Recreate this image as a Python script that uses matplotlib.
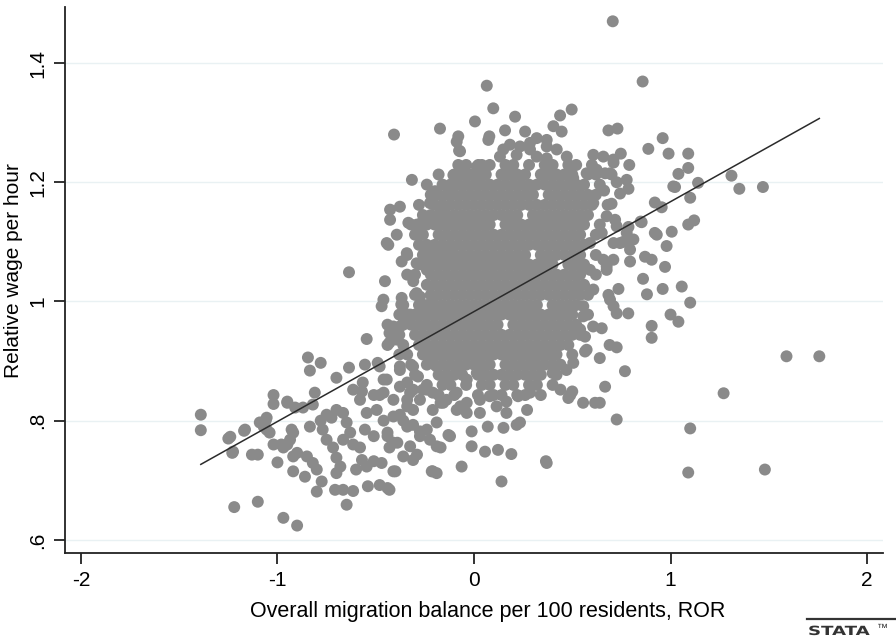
import numpy as np
import matplotlib
matplotlib.use("Agg")
import matplotlib.pyplot as plt
from matplotlib.lines import Line2D
from matplotlib.textpath import TextPath
from matplotlib.patches import PathPatch
from matplotlib.font_manager import FontProperties
from matplotlib.transforms import Affine2D

plt.rcParams['font.family'] = ['Liberation Sans', 'DejaVu Sans']

# regions, ROR: migration balance per 100 residents vs relative hourly wage
# sparse left tail
left_tail = [
    (-1.39, 0.81), (-1.39, 0.784), (-1.25, 0.77), (-1.23, 0.746), (-1.17, 0.783),
    (-1.13, 0.743), (-1.10, 0.743), (-1.06, 0.80), (-1.07, 0.79), (-1.02, 0.843),
    (-1.02, 0.828), (-1.04, 0.78), (-1.00, 0.73), (-1.22, 0.655), (-1.10, 0.664),
    (-0.97, 0.637), (-0.90, 0.624), (-0.95, 0.83), (-0.92, 0.78), (-0.98, 0.76),
    (-0.95, 0.76), (-0.92, 0.74), (-0.92, 0.715), (-0.845, 0.906), (-0.835, 0.884),
    (-0.95, 0.832), (-0.81, 0.847), (-0.82, 0.827), (-0.87, 0.822), (-0.91, 0.822),
    (-1.055, 0.805), (-1.09, 0.797), (-1.055, 0.785), (-1.165, 0.785), (-1.24, 0.773),
    (-1.226, 0.748), (-1.02, 0.76), (-0.97, 0.755), (-0.928, 0.785), (-0.936, 0.768),
    (-0.90, 0.746), (-0.86, 0.706), (-0.85, 0.74), (-0.82, 0.729), (-0.835, 0.79),
    (-0.80, 0.718), (-0.80, 0.681),
]

# lower left arm of the cloud
lower_arm = [
    (-0.78, 0.897), (-0.70, 0.872), (-0.636, 0.889), (-0.555, 0.894), (-0.49, 0.897),
    (-0.46, 0.869), (-0.615, 0.852), (-0.566, 0.864), (-0.546, 0.937), (-0.78, 0.80),
    (-0.75, 0.81), (-0.77, 0.785), (-0.75, 0.768), (-0.717, 0.755), (-0.70, 0.738),
    (-0.68, 0.723), (-0.70, 0.712), (-0.707, 0.684), (-0.666, 0.684), (-0.615, 0.682),
    (-0.648, 0.659), (-0.54, 0.69), (-0.48, 0.692), (-0.44, 0.687), (-0.775, 0.698),
    (-0.70, 0.818), (-0.725, 0.805), (-0.666, 0.813), (-0.648, 0.797), (-0.63, 0.78),
    (-0.666, 0.768), (-0.615, 0.76), (-0.58, 0.755), (-0.57, 0.734), (-0.60, 0.718),
    (-0.546, 0.723), (-0.51, 0.732), (-0.47, 0.729), (-0.41, 0.715), (-0.555, 0.785),
    (-0.51, 0.774), (-0.546, 0.813), (-0.58, 0.835), (-0.57, 0.849), (-0.51, 0.843),
    (-0.48, 0.843), (-0.444, 0.869), (-0.495, 0.818), (-0.46, 0.80), (-0.41, 0.807),
    (-0.36, 0.80), (-0.31, 0.793), (-0.44, 0.774), (-0.39, 0.763), (-0.43, 0.755),
    (-0.36, 0.74), (-0.31, 0.734), (-0.325, 0.757), (-0.275, 0.774), (-0.24, 0.785),
    (-0.19, 0.757), (-0.21, 0.715), (-0.063, 0.723), (-0.122, 0.774), (-0.012, 0.782),
    (-0.012, 0.757), (-0.325, 0.847), (-0.275, 0.835), (-0.24, 0.852), (-0.34, 0.864),
    (-0.285, 0.874), (-0.377, 0.891), (-0.31, 0.891), (-0.21, 0.818), (-0.157, 0.83),
    (-0.088, 0.818), (-0.037, 0.813), (-0.19, 0.797), (-0.31, 0.818), (-0.34, 0.824),
    (-0.41, 0.835), (-0.636, 1.049),
    (-0.40, 0.715), (-0.215, 0.715), (-0.19, 0.712), (-0.43, 0.684), (0.14, 0.698),
    (0.37, 0.729), (0.056, 0.748), (0.122, 0.751), (0.19, 0.744), (0.07, 0.79),
    (0.15, 0.788), (0.217, 0.793), (-0.13, 0.776), (-0.17, 0.755), (-0.29, 0.743),
    (-0.44, 0.78), (-0.41, 0.763), (-0.34, 0.79), (-0.275, 0.782), (-0.224, 0.768),
    (-0.377, 0.81), (0.165, 0.813), (0.234, 0.797), (0.27, 0.818), (0.285, 0.847),
    (0.224, 0.841), (0.165, 0.832), (0.115, 0.824), (0.08, 0.841), (0.03, 0.835),
    (0.03, 0.813), (-0.037, 0.83), (-0.07, 0.824), (-0.088, 0.847), (-0.14, 0.835),
    (-0.17, 0.83), (-0.21, 0.847), (-0.26, 0.852), (-0.14, 0.874), (-0.19, 0.891),
    (-0.215, 0.902), (-0.088, 0.885), (-0.037, 0.869), (0.014, 0.88), (-0.31, 0.852),
    (-0.34, 0.835), (-0.377, 0.885), (-0.377, 0.857), (-0.46, 0.847), (-0.48, 0.891),
    (-0.43, 0.947), (-0.377, 0.958), (-0.43, 0.931), (-0.325, 0.978), (-0.37, 0.995),
]

# right-hand side of the cloud and far outliers
right_side = [
    (0.44, 0.852), (0.50, 0.849), (0.48, 0.838), (0.555, 0.83), (0.616, 0.83),
    (0.64, 0.905), (0.667, 0.857), (0.606, 0.958), (0.573, 0.919),
    (0.92, 1.115), (1.006, 1.117), (0.98, 1.093), (0.972, 1.058), (0.87, 1.075),
    (0.904, 1.07), (0.86, 1.038), (0.88, 1.012), (0.96, 1.021), (1.057, 1.025),
    (1.10, 0.998), (1.00, 0.978), (1.04, 0.966), (0.904, 0.959), (0.904, 0.939),
    (0.785, 0.98), (0.735, 1.021), (0.684, 1.011), (0.71, 0.992), (0.726, 0.98),
    (0.794, 1.087), (0.794, 1.067), (0.76, 1.10), (0.675, 1.059), (0.65, 0.955),
    (0.69, 0.927), (0.726, 0.923), (0.565, 0.916), (0.768, 0.883), (0.49, 0.843),
    (0.726, 0.802), (1.10, 0.787), (0.366, 0.732), (1.09, 0.713),
    (0.505, 0.897), (0.47, 0.885), (0.40, 0.88), (0.565, 0.941), (0.54, 0.953),
    (0.556, 0.975), (0.52, 1.014), (0.607, 1.02), (0.556, 0.992), (0.59, 1.053),
    (0.658, 1.07), (0.59, 1.098), (0.71, 1.098), (0.743, 1.098), (0.65, 1.115),
    (0.706, 1.47), (0.858, 1.369), (0.684, 1.287), (0.73, 1.29), (0.96, 1.274),
    (0.887, 1.256), (0.99, 1.248), (1.09, 1.248), (1.09, 1.224), (1.04, 1.214),
    (1.023, 1.192), (1.14, 1.199), (1.31, 1.211), (1.35, 1.189), (1.47, 1.192),
    (1.10, 1.174), (0.92, 1.166), (0.955, 1.158), (0.853, 1.133), (0.93, 1.112),
    (1.09, 1.129), (1.12, 1.136), (0.79, 1.229), (0.747, 1.248), (0.71, 1.233),
    (0.658, 1.243), (0.667, 1.215), (0.726, 1.20), (0.777, 1.204), (0.743, 1.181),
    (0.786, 1.189), (0.662, 1.186), (0.70, 1.164), (0.675, 1.143), (0.718, 1.137),
    (0.786, 1.125), (0.848, 1.134), (0.786, 1.099), (1.27, 0.846), (1.59, 0.908),
    (1.757, 0.908), (1.48, 0.718), (0.64, 0.83),
]

# upper part of the cloud
upper_side = [
    (0.065, 1.362), (0.098, 1.324), (0.209, 1.31), (0.497, 1.322), (0.438, 1.312),
    (0.005, 1.302), (-0.173, 1.29), (-0.407, 1.28), (-0.08, 1.277), (-0.076, 1.253),
    (0.078, 1.277), (0.158, 1.287), (0.26, 1.285), (0.404, 1.294), (0.446, 1.285),
    (-0.316, 1.204), (0.319, 1.274), (0.37, 1.271), (0.421, 1.255), (0.472, 1.243),
    (0.607, 1.246), (0.709, 1.238), (0.692, 1.215), (0.624, 1.221), (0.573, 1.215),
    (0.505, 1.207), (0.149, 1.255), (0.183, 1.263), (0.234, 1.26), (0.285, 1.266),
    (0.132, 1.243), (0.319, 1.243), (0.37, 1.24), (0.014, 1.226), (-0.088, 1.212),
    (-0.122, 1.193), (-0.097, 1.196), (-0.198, 1.185), (-0.224, 1.165), (-0.164, 1.159),
    (-0.377, 1.159), (-0.427, 1.154), (-0.427, 1.137), (-0.334, 1.132), (-0.29, 1.129),
    (-0.258, 1.137), (-0.215, 1.143), (-0.393, 1.112), (-0.444, 1.098), (-0.342, 1.081),
    (-0.368, 1.067), (-0.453, 1.034), (-0.368, 1.006), (-0.461, 1.003), (-0.309, 1.034),
    (-0.292, 1.014), (-0.24, 1.07), (-0.139, 1.081), (-0.275, 1.115), (1.014, 1.193),
    (0.607, 1.165), (0.726, 1.126), (0.777, 1.115), (0.811, 1.104), (0.709, 1.07),
    (0.675, 1.053), (0.692, 1.003),
    (-0.436, 1.095), (-0.47, 0.992), (-0.25, 1.087), (-0.19, 1.092), (-0.292, 1.064),
    (-0.24, 1.053), (-0.207, 1.008), (-0.275, 1.008), (-0.41, 0.958), (-0.36, 0.964),
    (-0.393, 0.936),
    (-0.071, 1.252), (-0.088, 1.268), (0.073, 1.271), (0.217, 1.246), (0.285, 1.255),
    (0.37, 1.26), (0.022, 1.229), (-0.105, 1.212),
]

# dense core, one list of x values per wage level
core_y = [1.229, 1.213, 1.196, 1.179, 1.162, 1.145, 1.129, 1.112, 1.095, 1.078,
          1.062, 1.045, 1.028, 1.011, 0.994, 0.978, 0.961, 0.944, 0.927, 0.911,
          0.894, 0.877, 0.860, 0.843]
core_x = [
    [-0.08, -0.04, 0.04, 0.08, 0.16, 0.20, 0.28, 0.36, 0.40, 0.48, 0.52, 0.60],
    [-0.18, -0.10, -0.06, -0.02, 0.02, 0.06, 0.14, 0.18, 0.22, 0.26, 0.34, 0.38, 0.42, 0.46, 0.50, 0.58, 0.62,
     0.70],
    [-0.24, -0.16, -0.12, -0.08, -0.04, 0.00, 0.04, 0.08, 0.12, 0.16, 0.20, 0.24, 0.28, 0.32, 0.36, 0.40, 0.44,
     0.48, 0.52, 0.56, 0.64],
    [-0.22, -0.18, -0.14, -0.10, -0.06, -0.02, 0.02, 0.06, 0.10, 0.14, 0.18, 0.22, 0.26, 0.30, 0.38, 0.42, 0.46,
     0.50, 0.54, 0.58, 0.62],
    [-0.28, -0.20, -0.16, -0.12, -0.08, -0.04, 0.00, 0.04, 0.08, 0.12, 0.16, 0.20, 0.24, 0.28, 0.32, 0.36, 0.40,
     0.44, 0.48, 0.52, 0.56, 0.60, 0.68],
    [-0.26, -0.22, -0.18, -0.14, -0.10, -0.06, -0.02, 0.02, 0.06, 0.10, 0.14, 0.18, 0.22, 0.30, 0.34, 0.38, 0.42,
     0.46, 0.50, 0.54, 0.58],
    [-0.32, -0.24, -0.20, -0.16, -0.12, -0.08, -0.04, 0.00, 0.04, 0.08, 0.16, 0.20, 0.24, 0.28, 0.32, 0.36, 0.40,
     0.44, 0.48, 0.52, 0.56, 0.64],
    [-0.30, -0.26, -0.18, -0.14, -0.10, -0.06, -0.02, 0.02, 0.06, 0.10, 0.14, 0.18, 0.22, 0.26, 0.30, 0.34, 0.38,
     0.42, 0.46, 0.50, 0.54, 0.62],
    [-0.28, -0.24, -0.20, -0.16, -0.12, -0.08, -0.04, 0.00, 0.04, 0.08, 0.12, 0.16, 0.20, 0.24, 0.28, 0.32, 0.36,
     0.40, 0.44, 0.48, 0.52, 0.56],
    [-0.34, -0.26, -0.22, -0.18, -0.14, -0.10, -0.06, -0.02, 0.02, 0.06, 0.10, 0.14, 0.18, 0.22, 0.26, 0.34, 0.38,
     0.42, 0.46, 0.50, 0.54, 0.62],
    [-0.28, -0.24, -0.20, -0.16, -0.12, -0.08, -0.04, 0.00, 0.04, 0.08, 0.12, 0.16, 0.20, 0.24, 0.28, 0.32, 0.36,
     0.40, 0.48, 0.52, 0.56],
    [-0.34, -0.30, -0.22, -0.18, -0.14, -0.10, -0.06, -0.02, 0.02, 0.06, 0.10, 0.14, 0.18, 0.22, 0.26, 0.30, 0.34,
     0.38, 0.42, 0.46, 0.50, 0.54, 0.62],
    [-0.24, -0.20, -0.16, -0.12, -0.08, -0.04, 0.00, 0.04, 0.08, 0.12, 0.16, 0.20, 0.24, 0.28, 0.32, 0.36, 0.40,
     0.44, 0.48, 0.52, 0.56],
    [-0.30, -0.22, -0.18, -0.14, -0.10, -0.06, -0.02, 0.02, 0.06, 0.10, 0.14, 0.18, 0.22, 0.26, 0.30, 0.34, 0.38,
     0.42, 0.46, 0.50, 0.54, 0.58],
    [-0.36, -0.28, -0.24, -0.20, -0.16, -0.12, -0.08, -0.04, 0.00, 0.04, 0.08, 0.12, 0.16, 0.20, 0.24, 0.28, 0.32,
     0.40, 0.44, 0.48, 0.52],
    [-0.38, -0.34, -0.30, -0.26, -0.22, -0.18, -0.14, -0.10, -0.06, -0.02, 0.02, 0.06, 0.10, 0.14, 0.18, 0.22, 0.26,
     0.30, 0.34, 0.38, 0.42, 0.46, 0.50, 0.58],
    [-0.44, -0.36, -0.32, -0.28, -0.24, -0.20, -0.16, -0.12, -0.08, -0.04, 0.00, 0.04, 0.08, 0.12, 0.20, 0.24, 0.28,
     0.32, 0.36, 0.40, 0.44, 0.48, 0.52],
    [-0.42, -0.38, -0.30, -0.26, -0.22, -0.18, -0.14, -0.10, -0.06, -0.02, 0.02, 0.06, 0.10, 0.14, 0.18, 0.22, 0.26,
     0.30, 0.34, 0.38, 0.42, 0.46, 0.50, 0.54],
    [-0.44, -0.36, -0.28, -0.24, -0.20, -0.16, -0.12, -0.08, -0.04, 0.00, 0.04, 0.08, 0.12, 0.16, 0.20, 0.24, 0.28,
     0.32, 0.36, 0.40, 0.44, 0.48],
    [-0.38, -0.34, -0.26, -0.22, -0.18, -0.14, -0.10, -0.06, -0.02, 0.02, 0.06, 0.10, 0.14, 0.18, 0.22, 0.26, 0.30,
     0.34, 0.38, 0.42, 0.50],
    [-0.32, -0.24, -0.20, -0.16, -0.12, -0.08, -0.04, 0.00, 0.04, 0.08, 0.16, 0.20, 0.24, 0.28, 0.32, 0.36, 0.40,
     0.44],
    [-0.30, -0.18, -0.14, -0.10, -0.06, 0.02, 0.06, 0.10, 0.14, 0.18, 0.22, 0.26, 0.30, 0.34, 0.42],
    [-0.24, -0.16, -0.12, -0.04, 0.04, 0.08, 0.16, 0.20, 0.28, 0.32, 0.40],
    [-0.18, -0.10, 0.02, 0.10, 0.14, 0.22, 0.26, 0.34],
]

# linear fit shown in the chart
fit_intercept = 0.983
fit_slope = 0.1844

xticks = [-2, -1, 0, 1, 2]
xtick_labels = ['-2', '-1', '0', '1', '2']
yticks = [0.6, 0.8, 1.0, 1.2, 1.4]
ytick_labels = ['.6', '.8', '1', '1.2', '1.4']

# collect all points
pts = left_tail + lower_arm + right_side + upper_side
for yv, row in zip(core_y, core_x):
    pts += [(xv, yv) for xv in row]
x = np.array([p[0] for p in pts])
y = np.array([p[1] for p in pts])
xfit = np.array([x.min(), x.max()])

fig = plt.figure(figsize=(8.96, 6.39), dpi=100)
ax = fig.add_axes([65 / 896, 86 / 639, 818 / 896, 546 / 639])

for t in yticks:
    ax.axhline(t, color='#e9f1f3', lw=1.0, zorder=0)

ax.scatter(x, y, s=74, color='#8a8a8a', edgecolors='none', zorder=2)
ax.plot(xfit, fit_intercept + fit_slope * xfit, color='#2b2b2b', lw=1.1, zorder=3)

ax.set_xlim(-2.081, 2.081)
ax.set_ylim(0.578, 1.494)
ax.set_xticks(xticks)
ax.set_xticklabels(xtick_labels)
ax.set_yticks(yticks)
ax.set_yticklabels(ytick_labels, rotation=90, va='center')

for s in ['top', 'right']:
    ax.spines[s].set_visible(False)
for s in ['left', 'bottom']:
    ax.spines[s].set_linewidth(1.3)
    ax.spines[s].set_color('#222222')
ax.tick_params(axis='both', length=8, width=1.3, color='#222222', labelsize=15, pad=5)

ax.set_xlabel('Overall migration balance per 100 residents, ROR', fontsize=15.5, va='center')
ax.xaxis.set_label_coords(0.517, -0.108)
ax.set_ylabel('Relative wage per hour', fontsize=15, va='center')
ax.yaxis.set_label_coords(-0.0625, 0.518)

# stata logo in the corner (pixel coordinates, origin bottom left)
logo = TextPath((0, 0), 'STATA', size=11, prop=FontProperties(family='DejaVu Sans', weight='bold'))
fig.add_artist(PathPatch(logo, transform=Affine2D().scale(1.65, 1.15).translate(808, 4),
                         color='#333333', lw=0))
fig.text(877 / 896, 11 / 639, '\u2122', fontsize=8, color='#333333', va='center', ha='left')
fig.add_artist(Line2D([807 / 896, 896 / 896], [20 / 639, 20 / 639],
                      transform=fig.transFigure, color='#333333', lw=1.6))

fig.savefig('out.png', dpi=100)
